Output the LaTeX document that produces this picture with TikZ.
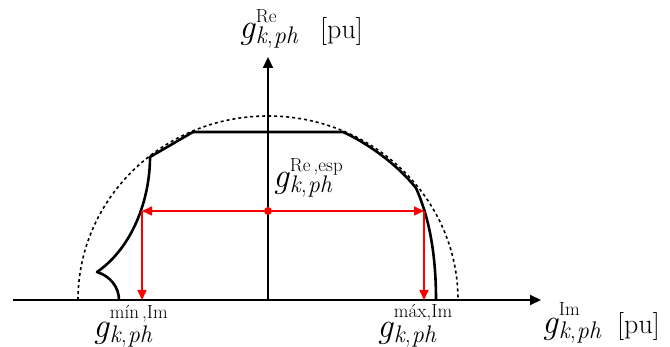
\documentclass[tikz,border=0pt]{standalone}
\usepackage{fontspec}
\usetikzlibrary{arrows.meta}
\newcommand{\glabel}[2]{\mbox{{\fontsize{35}{40}\selectfont\itshape g}\kern1pt%
  \setbox0\hbox{\raisebox{#2pt}{\fontsize{19}{22}\selectfont #1}}%
  \setbox2\hbox{\raisebox{-5pt}{\fontsize{24}{26}\selectfont\textit{k},\kern1pt\textit{ph}}}%
  \ifdim\wd0>\wd2 \rlap{\box2}\box0\else\rlap{\box0}\box2\fi}}
\tikzset{
  axisline/.style={line width=2pt,-{Triangle[length=11pt,width=10pt]}},
  curveline/.style={line width=2.6pt,line join=round},
  limitline/.style={line width=1.6pt,dash pattern=on 3pt off 3pt},
  redarrow/.style={red,line width=1.6pt,-{Triangle[length=10pt,width=9pt]}},
  lbl/.style={font=\fontsize{28}{32}\selectfont,inner sep=0pt,anchor=base west}
}
\begin{document}
\begin{tikzpicture}[x=1pt,y=-1pt]
\useasboundingbox (0,0) rectangle (670,347);
% limit ellipse
\draw[limitline] (78,300) arc[start angle=180,end angle=360,x radius=190,y radius=184];
% axes
\coordinate (xs) at (13,300);
\coordinate (xe) at (541,300);
\coordinate (ys) at (268,300);
\coordinate (ye) at (268,57);
\draw[axisline] (xs) -- (xe);
\draw[axisline] (ys) -- (ye);
% capability curve
\coordinate (l0) at (119,300);
\coordinate (cusp) at (97,272);
\coordinate (l1) at (150,157);
\coordinate (t0) at (193,132);
\coordinate (t1) at (343,132);
\coordinate (r1) at (416,188);
\coordinate (r0) at (436,300);
\draw[curveline] (l0) .. controls (119,287) and (110,276) .. (cusp)
  .. controls (132,248) and (150,200) .. (l1) -- (t0) -- (t1)
  .. controls (365,142) and (395,162) .. (r1)
  .. controls (428,215) and (436,250) .. (r0);
% red arrows
\node[circle,fill=red,inner sep=0pt,minimum size=8pt] (c) at (268,211) {};
\coordinate (pl) at (142,211);
\coordinate (pr) at (424,211);
\coordinate (bl) at (142,300);
\coordinate (br) at (424,300);
\draw[redarrow] (c) -- (pl);
\draw[redarrow] (c) -- (pr);
\draw[redarrow] (pl) -- (bl);
\draw[redarrow] (pr) -- (br);
% labels
\node[lbl] (yl) at (239,39) {\makebox[81pt][l]{\glabel{Re}{16}}[pu]};
\node[lbl] (esp) at (273,188) {\glabel{Re\,,esp}{16}};
\node[lbl] (mn) at (93,338) {\glabel{mín\,,Im}{19}};
\node[lbl] (mx) at (377,338) {\glabel{máx,Im}{20}};
\node[lbl] (xl) at (542,334) {\makebox[75pt][l]{\glabel{Im}{18}}[pu]};
\end{tikzpicture}
\end{document}
